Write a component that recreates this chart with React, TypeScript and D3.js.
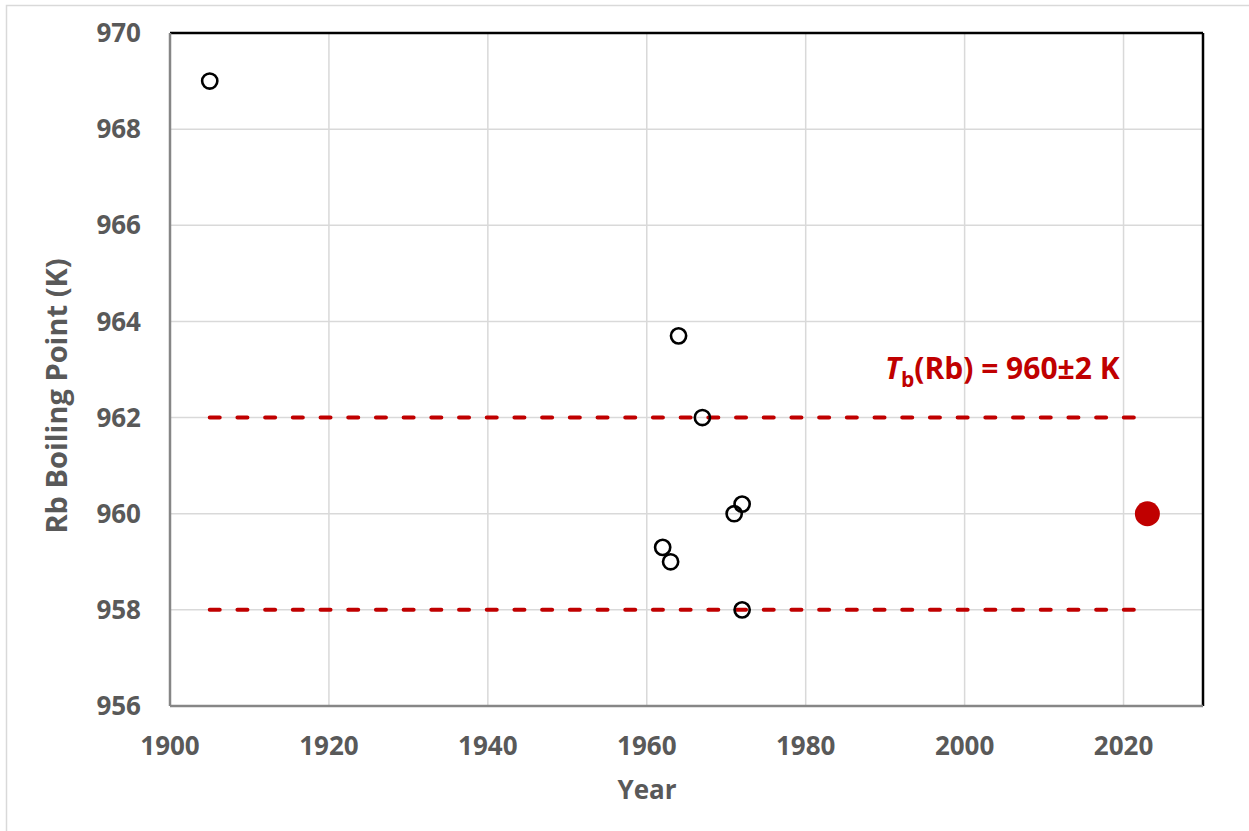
import React from "react";
import * as d3 from "d3";

const years = [1905, 1964, 1967, 1971, 1972, 1962, 1963, 1972];
const boilingPoints = [969, 963.7, 962, 960, 960.2, 959.3, 959, 958];
const recommendedYear = [2023];
const recommendedValue = [960];
const bandValues = [962, 958];
const bandYears = [1905, 2022];
const xTicks = [1900, 1920, 1940, 1960, 1980, 2000, 2020];
const yTicks = [956, 958, 960, 962, 964, 966, 968, 970];

const W = 1249;
const H = 831;
const m = { left: 170, right: 1203, top: 33, bottom: 706 };
const FONT = "'Open Sans', 'Liberation Sans', sans-serif";

export default function App() {
  const x = d3.scaleLinear().domain([1900, 2030]).range([m.left, m.right]);
  const y = d3.scaleLinear().domain([956, 970]).range([m.bottom, m.top]);
  const red = "#c00000";
  const tickColor = "#595959";
  return (
    <svg width={W} height={H} style={{ position: "absolute", left: 0, top: 0, background: "#fff" }}>
      <rect x={0} y={0} width={W} height={H} fill="#fff" />
      <path d={`M6.5,${H} V5.5 H${W}`} fill="none" stroke="#d9d9d9" strokeWidth={1.5} />
      {xTicks.slice(1).map((t) => (
        <line key={"gx" + t} x1={x(t)} x2={x(t)} y1={m.top} y2={m.bottom} stroke="#d9d9d9" strokeWidth={1.5} />
      ))}
      {yTicks.slice(1, -1).map((t) => (
        <line key={"gy" + t} x1={m.left} x2={m.right} y1={y(t)} y2={y(t)} stroke="#d9d9d9" strokeWidth={1.5} />
      ))}
      {bandValues.map((v) => (
        <line key={"b" + v} x1={x(bandYears[0])} x2={x(bandYears[1])} y1={y(v)} y2={y(v)}
          stroke={red} strokeWidth={4} strokeDasharray="10 17.7" strokeLinecap="round" />
      ))}
      <line x1={m.left} x2={m.right} y1={m.top} y2={m.top} stroke="#000" strokeWidth={2.5} />
      <line x1={m.right} x2={m.right} y1={m.top} y2={m.bottom} stroke="#000" strokeWidth={2.5} />
      <line x1={m.left} x2={m.left} y1={m.top} y2={m.bottom} stroke="#868686" strokeWidth={2.5} />
      <line x1={m.left} x2={m.right} y1={m.bottom} y2={m.bottom} stroke="#868686" strokeWidth={2.5} />
      {years.map((yr, i) => (
        <circle key={"p" + i} cx={x(yr)} cy={y(boilingPoints[i])} r={7.6} fill="none" stroke="#000" strokeWidth={2.6} />
      ))}
      {recommendedYear.map((yr, i) => (
        <circle key={"r" + i} cx={x(yr)} cy={y(recommendedValue[i])} r={12.5} fill={red} />
      ))}
      {yTicks.map((t) => (
        <text key={"ty" + t} x={141} y={y(t)} dy="0.35em" textAnchor="end" fontFamily={FONT} fontWeight={700}
          fontSize={26} fill={tickColor}>{t}</text>
      ))}
      {xTicks.map((t) => (
        <text key={"tx" + t} x={x(t)} y={755} textAnchor="middle" fontFamily={FONT} fontWeight={700}
          fontSize={26} fill={tickColor}>{t}</text>
      ))}
      <text x={647} y={799} textAnchor="middle" fontFamily={FONT} fontWeight={700} fontSize={26} fill={tickColor}>Year</text>
      <text transform={`translate(67,396) rotate(-90)`} textAnchor="middle" fontFamily={FONT} fontWeight={700}
        fontSize={29} fill={tickColor}>Rb Boiling Point (K)</text>
      <text x={885} y={379} fontFamily={FONT} fontWeight={700} fontSize={30} fill={red}>
        <tspan fontStyle="italic">T</tspan>
        <tspan fontSize={21} dy={8}>b</tspan>
        <tspan dy={-8}>(Rb) = 960±2 K</tspan>
      </text>
    </svg>
  );
}
